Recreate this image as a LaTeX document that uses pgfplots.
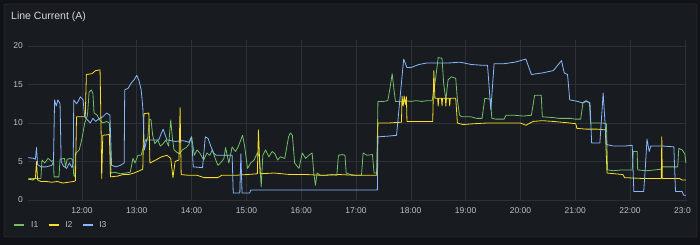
\documentclass[border=0pt]{standalone}
\usepackage{fontspec}
\setmainfont{Liberation Sans}
\usepackage{pgfplots}
\pgfplotsset{compat=1.18}
\definecolor{bgout}{HTML}{111217}
\definecolor{panel}{HTML}{181B1F}
\definecolor{border}{HTML}{26282D}
\definecolor{gridc}{HTML}{2D3035}
\definecolor{tickc}{HTML}{BFC0C8}
\definecolor{titlec}{HTML}{D8D9DA}
\definecolor{gI}{HTML}{73BF69}
\definecolor{yI}{HTML}{FADE2A}
\definecolor{bI}{HTML}{8AB8FF}
\begin{document}
\begin{tikzpicture}[x=1pt,y=1pt]
\path[use as bounding box] (0,0) rectangle (700,245);
\fill[bgout] (0,0) rectangle (700,245);
\fill[panel,draw=border,line width=0.8pt,rounded corners=2pt] (4,8) rectangle (697,241);
\node[anchor=base west,inner sep=0pt,text=titlec,font=\fontsize{10.5}{12}\selectfont] at (11,225) {Line Current (A)};
\begin{scope}
\clip (0,0) rectangle (690,245);
\begin{axis}[
  at={(28pt,43.5pt)}, anchor=south west, scale only axis,
  width=659pt, height=161.5pt,
  xmin=11.015, xmax=23.04, ymin=-0.2, ymax=20.78,
  axis line style={draw=none},
  major tick length=0pt,
  grid=major,
  major grid style={color=gridc,line width=0.6pt},
  xtick={12,13,14,15,16,17,18,19,20,21,22,23},
  xticklabels={12:00,13:00,14:00,15:00,16:00,17:00,18:00,19:00,20:00,21:00,22:00,23:00},
  ytick={0,5,10,15,20},
  /pgf/number format/assume math mode=true,
  tick label style={font=\fontsize{8.5}{10}\selectfont,text=tickc},
  yticklabel style={anchor=east,inner sep=0pt,xshift=-5pt},
  xticklabel style={anchor=north,inner sep=0pt,yshift=-6pt},
  legend columns=3,
  legend style={at={(-0.02276,-0.1455)},anchor=west,draw=none,fill=none,
    inner sep=0pt,font=\fontsize{8.5}{10}\selectfont,text=tickc,
    nodes={inner sep=0pt},
    /tikz/every odd column/.append style={column sep=5.5pt},
    /tikz/every even column/.append style={column sep=9pt}},
  legend image code/.code={\draw[#1,line width=2.5pt] (0pt,0pt) -- (10pt,0pt);},
  every axis plot/.append style={line width=0.8pt,line join=round,mark=none},
]
\addplot[gI] coordinates {
(11.02,2.8)(11.25,2.8)(11.27,5.2)(11.32,4.8)(11.38,5.4)(11.45,5.0)(11.48,5.2)(11.49,3.0)
(11.58,3.0)(11.60,5.3)(11.68,5.4)(11.70,4.3)(11.73,5.3)(11.80,5.4)(11.83,5.2)(11.85,3.2)
(11.87,3.0)(11.88,6.0)(11.95,6.5)(12.00,8.0)(12.05,10.0)(12.10,11.0)(12.13,14.0)(12.17,14.3)
(12.20,13.8)(12.22,11.3)(12.28,11.0)(12.32,10.4)(12.38,10.0)(12.45,10.2)(12.50,10.0)(12.53,3.5)
(12.60,3.6)(12.70,3.4)(12.80,3.5)(12.88,3.6)(12.90,4.3)(12.93,5.4)(12.97,4.8)(13.02,5.8)
(13.08,5.8)(13.12,6.9)(13.16,7.8)(13.20,8.0)(13.23,10.5)(13.26,10.4)(13.29,8.4)(13.33,7.3)
(13.38,7.8)(13.43,7.0)(13.48,7.3)(13.53,7.8)(13.58,7.0)(13.62,10.4)(13.65,8.0)(13.68,6.5)
(13.73,6.2)(13.78,6.0)(13.83,6.5)(13.90,6.8)(13.95,7.2)(14.00,8.2)(14.05,5.8)(14.10,6.5)
(14.15,6.1)(14.22,5.2)(14.28,6.1)(14.33,5.8)(14.38,6.5)(14.43,5.4)(14.48,4.5)(14.54,4.9)
(14.59,5.4)(14.62,6.8)(14.68,4.8)(14.74,6.9)(14.80,6.3)(14.85,6.9)(14.93,8.4)(14.97,6.9)
(15.02,4.1)(15.08,4.8)(15.14,5.2)(15.20,6.1)(15.24,5.5)(15.27,1.7)(15.30,5.8)(15.35,6.5)
(15.41,5.6)(15.47,6.3)(15.52,6.0)(15.57,5.2)(15.62,5.6)(15.70,5.4)(15.77,8.2)(15.80,8.7)
(15.84,8.4)(15.88,4.8)(15.96,4.1)(16.02,6.1)(16.08,5.4)(16.14,5.8)(16.20,6.1)(16.23,3.5)
(16.26,1.9)(16.29,3.5)(16.35,3.2)(16.45,3.2)(16.55,3.3)(16.65,3.2)(16.68,5.8)(16.75,5.9)
(16.80,5.8)(16.82,3.5)(16.90,3.3)(17.00,3.2)(17.10,3.2)(17.13,6.1)(17.20,5.8)(17.30,5.9)
(17.33,3.5)(17.38,3.5)(17.40,12.8)(17.50,12.8)(17.58,12.9)(17.62,14.5)(17.66,16.4)(17.69,14.5)
(17.72,12.8)(17.80,12.8)(17.90,12.9)(18.00,12.8)(18.10,12.9)(18.20,12.8)(18.30,12.9)(18.39,12.9)
(18.45,15.6)(18.50,18.5)(18.57,18.4)(18.60,15.1)(18.64,13.0)(18.68,15.6)(18.74,16.0)(18.82,15.8)
(18.85,13.0)(18.89,11.0)(18.93,10.8)(19.10,10.8)(19.20,10.6)(19.30,10.6)(19.35,13.2)(19.45,13.1)
(19.48,10.6)(19.55,10.5)(19.70,10.5)(19.74,11.0)(19.90,11.0)(20.05,10.9)(20.20,11.0)(20.26,13.6)
(20.38,13.6)(20.40,10.8)(20.60,10.7)(20.70,10.6)(20.90,10.6)(21.00,10.5)(21.10,10.5)(21.14,12.6)
(21.20,12.8)(21.26,12.6)(21.28,10.0)(21.40,10.0)(21.50,10.0)(21.57,9.9)(21.59,3.9)(21.70,3.8)
(21.85,3.9)(22.04,3.9)(22.06,6.3)(22.13,6.3)(22.14,3.9)(22.30,3.8)(22.45,3.9)(22.57,4.0)
(22.58,4.3)(22.70,4.3)(22.87,4.3)(22.89,6.7)(22.95,6.5)(23.00,6.0)(23.02,4.8)
};
\addlegendentry{I1}
\addplot[yI] coordinates {
(11.02,2.7)(11.10,2.6)(11.15,2.8)(11.17,5.0)(11.19,2.6)(11.25,2.4)(11.35,2.4)(11.45,2.3)
(11.55,2.4)(11.65,2.2)(11.75,2.3)(11.85,2.4)(11.88,2.5)(11.90,10.8)(12.06,10.8)(12.08,16.3)
(12.18,16.4)(12.25,16.8)(12.33,16.9)(12.35,8.5)(12.36,2.8)(12.38,8.4)(12.50,8.5)(12.52,3.0)
(12.65,3.1)(12.75,3.3)(12.85,3.3)(12.95,3.5)(13.05,3.8)(13.11,4.0)(13.13,11.2)(13.22,11.3)
(13.24,4.8)(13.35,5.2)(13.45,5.6)(13.55,5.8)(13.62,5.4)(13.66,2.9)(13.70,5.0)(13.77,5.2)
(13.79,12.0)(13.81,3.3)(13.95,3.2)(14.10,3.2)(14.23,2.9)(14.48,2.9)(14.55,3.2)(14.80,3.2)
(15.00,3.3)(15.20,3.4)(15.22,9.1)(15.25,3.4)(15.50,3.5)(15.80,3.3)(16.10,3.3)(16.40,3.2)
(16.70,3.3)(17.00,3.2)(17.38,3.2)(17.40,10.0)(17.60,10.0)(17.83,10.1)(17.84,13.5)(17.86,12.2)
(17.88,13.5)(17.90,12.4)(17.92,13.4)(17.93,10.2)(18.10,10.2)(18.40,10.2)(18.42,16.8)(18.44,13.2)
(18.49,13.2)(18.50,12.2)(18.51,13.2)(18.56,13.2)(18.57,12.2)(18.58,13.2)(18.63,13.2)(18.64,12.2)
(18.65,13.2)(18.70,13.2)(18.71,12.2)(18.72,13.2)(18.78,13.2)(18.82,13.2)(18.85,10.0)(18.95,9.8)
(19.15,9.9)(19.40,10.0)(19.70,10.0)(20.00,10.0)
(20.10,9.7)(20.23,10.2)(20.40,10.3)(20.60,10.2)(20.90,10.0)(21.01,9.9)(21.03,9.3)(21.20,9.2)
(21.40,9.2)(21.55,9.1)(21.58,3.5)(21.87,3.3)(21.90,2.9)(22.20,2.8)(22.57,2.8)(22.58,8.2)
(22.59,2.8)(22.90,2.8)(22.95,2.6)(23.02,2.6)
};
\addlegendentry{I2}
\addplot[bI] coordinates {
(11.02,5.5)(11.12,5.4)(11.15,5.3)(11.17,6.8)(11.19,4.6)(11.25,4.3)(11.35,4.3)(11.45,4.5)
(11.48,5.0)(11.50,13.0)(11.53,12.2)(11.56,13.0)(11.60,12.5)(11.62,5.0)(11.66,4.4)(11.72,4.1)
(11.77,4.8)(11.82,4.2)(11.84,4.8)(11.85,13.0)(11.90,12.5)(11.93,12.8)(11.97,13.4)(12.02,13.0)
(12.05,10.8)(12.10,10.4)(12.15,10.0)(12.20,10.6)(12.25,10.2)(12.30,10.5)(12.38,10.8)(12.45,11.3)
(12.51,11.0)(12.54,4.5)(12.62,4.3)(12.70,4.5)(12.77,4.8)(12.78,14.3)(12.84,14.5)(12.90,15.2)
(12.95,15.6)(13.00,16.2)(13.04,15.5)(13.08,14.3)(13.11,12.0)(13.14,6.5)(13.18,7.8)(13.30,7.8)
(13.40,7.8)(13.48,9.2)(13.55,7.8)(13.70,7.6)(13.85,7.7)(13.95,7.5)(14.00,8.2)(14.03,4.3)
(14.20,4.2)(14.25,8.2)(14.30,8.0)(14.35,7.0)(14.40,6.1)(14.45,5.8)(14.60,5.8)(14.74,5.8)
(14.76,0.9)(14.88,0.9)(14.90,6.0)(14.92,0.9)(15.06,0.9)(15.08,1.3)(15.50,1.3)(16.00,1.3)
(16.50,1.3)(17.00,1.3)(17.39,1.3)(17.40,8.2)(17.60,8.3)(17.74,8.4)(17.80,13.0)(17.87,18.3)
(17.93,17.2)(18.00,17.2)(18.15,17.6)(18.30,17.8)(18.50,17.8)(18.70,17.8)(18.90,17.9)(19.10,17.6)
(19.30,17.5)(19.40,17.5)(19.46,11.7)(19.52,17.7)(19.70,17.7)(19.90,17.9)(20.10,18.3)(20.20,16.3)
(20.40,16.5)(20.60,16.8)(20.75,18.1)(20.80,16.5)(20.86,16.3)(20.90,13.0)(21.05,12.8)(21.13,12.6)
(21.20,12.9)(21.27,12.6)(21.30,7.4)(21.45,7.4)(21.51,13.9)(21.54,10.5)(21.57,7.2)(21.70,7.0)
(21.90,7.0)(22.04,7.1)(22.07,1.1)(22.25,1.1)(22.28,4.3)(22.31,7.9)(22.35,6.3)(22.38,7.0)
(22.60,7.0)(22.80,6.9)(22.83,1.1)(22.95,1.1)(22.98,0.6)(23.02,0.6)
};
\addlegendentry{I3}
\end{axis}
\end{scope}
\end{tikzpicture}
\end{document}
